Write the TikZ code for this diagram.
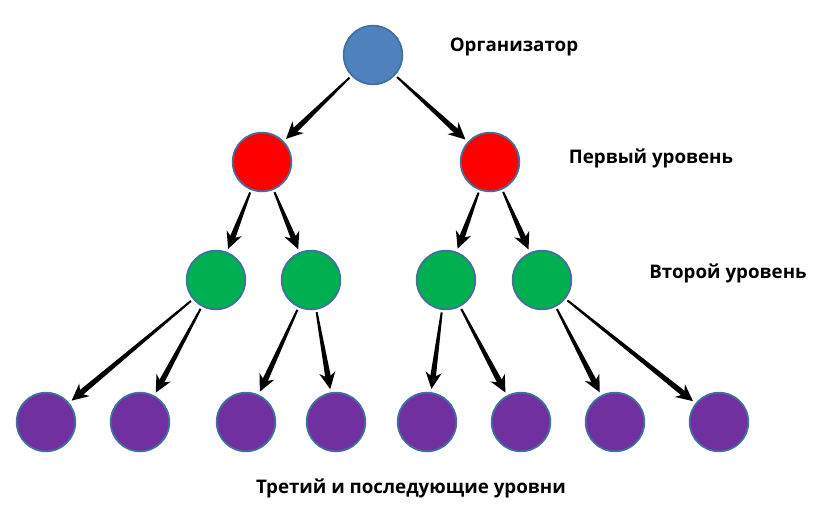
\documentclass[tikz,border=0pt]{standalone}
\usepackage{fontspec}
\setmainfont{Open Sans}
\usetikzlibrary{arrows.meta,calc}
\definecolor{orgblue}{HTML}{4F81BD}
\definecolor{rimblue}{HTML}{41719C}
\definecolor{lvlred}{HTML}{FF0000}
\definecolor{lvlgreen}{HTML}{00B050}
\definecolor{lvlpurple}{HTML}{7030A0}
% tapering arrow from node #1 to node #2
\newcommand{\taperlink}[2]{%
  \path ($(#1)!0.98cm!(#2)$) coordinate (ls)
        ($(#2)!1.0cm!(#1)$) coordinate (le)
        ($(le)!0.36cm!(ls)$) coordinate (lb);
  \fill ($(ls)!0.03cm!90:(le)$) -- ($(ls)!0.03cm!-90:(le)$)
        -- ($(lb)!0.085cm!90:(ls)$) -- ($(lb)!0.085cm!-90:(ls)$) -- cycle;
  \draw[head] ($(le)!0.6cm!(ls)$) -- (le);
}
\begin{document}
\begin{tikzpicture}[x=0.03cm, y=-0.03cm,
    lvl/.style={circle, draw=rimblue, line width=1.5pt, minimum size=1.76cm, inner sep=0pt},
    head/.style={line width=2pt, -{Stealth[length=0.5cm, width=0.48cm, inset=0.16cm]}},
    caption/.style={font=\bfseries\fontsize{16}{19}\selectfont}]
  \useasboundingbox (0,0) rectangle (825,525);

  % organizer and first level
  \node[lvl, fill=orgblue] (org) at (373,55) {};
  \node[lvl, fill=lvlred] (r1) at (262,162) {};
  \node[lvl, fill=lvlred] (r2) at (490,162) {};

  % second level
  \node[lvl, fill=lvlgreen] (g1) at (216,280) {};
  \node[lvl, fill=lvlgreen] (g2) at (311,280) {};
  \node[lvl, fill=lvlgreen] (g3) at (446,280) {};
  \node[lvl, fill=lvlgreen] (g4) at (542,280) {};

  % third level
  \foreach \x [count=\i] in {46,140,246,336,427,521,615,719}
    \node[lvl, fill=lvlpurple] (p\i) at (\x,422) {};

  \taperlink{org}{r1}
  \taperlink{org}{r2}
  \taperlink{r1}{g1}
  \taperlink{r1}{g2}
  \taperlink{r2}{g3}
  \taperlink{r2}{g4}
  \taperlink{g1}{p1}
  \taperlink{g1}{p2}
  \taperlink{g2}{p3}
  \taperlink{g2}{p4}
  \taperlink{g3}{p5}
  \taperlink{g3}{p6}
  \taperlink{g4}{p7}
  \taperlink{g4}{p8}

  \node[caption] (tOrg) at (514,47) {Организатор};
  \node[caption] (tFirst) at (651,158) {Первый уровень};
  \node[caption] (tSecond) at (728,273) {Второй уровень};
  \node[caption] (tThird) at (411,488) {Третий и последующие уровни};
\end{tikzpicture}
\end{document}
